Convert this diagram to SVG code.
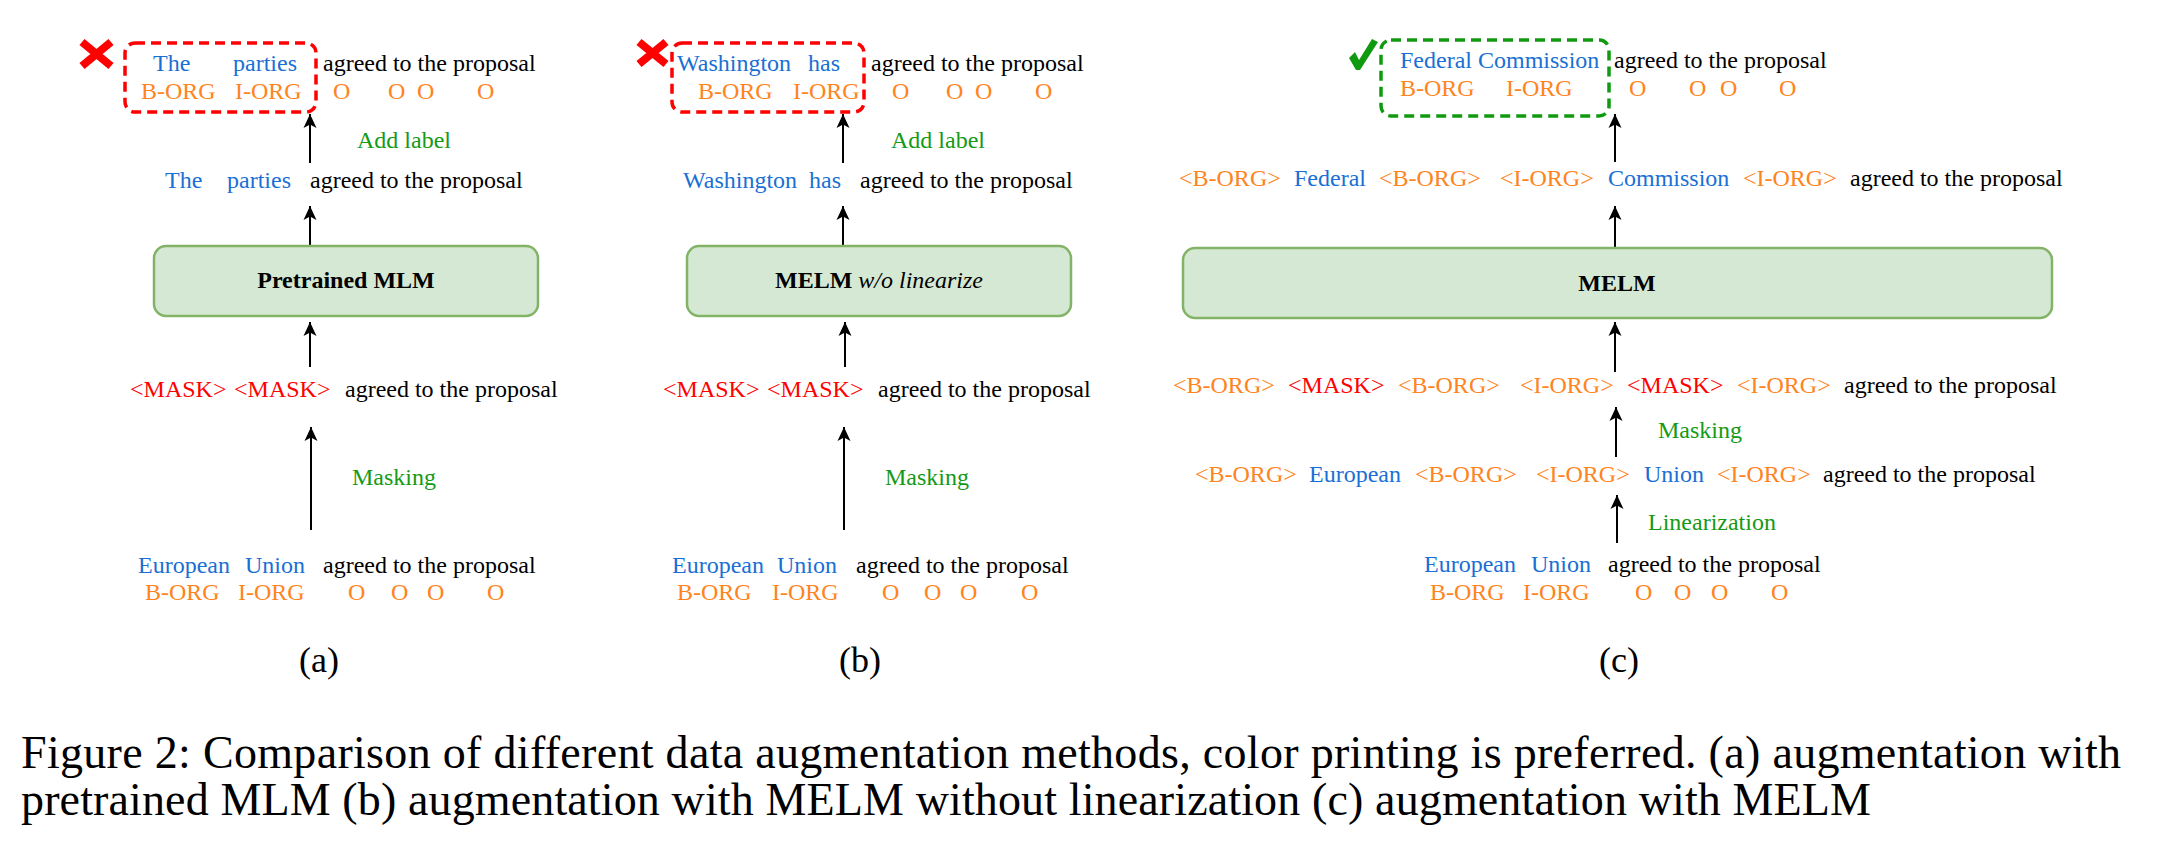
<svg xmlns="http://www.w3.org/2000/svg" width="2170" height="845" viewBox="0 0 2170 845">
<style>
text{font-family:"Liberation Serif","Times New Roman",serif;font-size:24px}
.b{fill:#1a6fd4}.o{fill:#ff8420}.r{fill:#ff0000}.k{fill:#000}.g{fill:#159a15}
.box{fill:#d5e8d4;stroke:#82b366;stroke-width:2.5}
.bold{font-weight:bold}
.lbl{text-anchor:middle;font-size:36px}
.cap{font-size:46px}
.conn line{stroke:#000;stroke-width:2;marker-end:url(#ah)}
.dashr{fill:none;stroke:#ff0000;stroke-width:3.5;stroke-dasharray:10 6}
.dashg{fill:none;stroke:#0f9a0f;stroke-width:3.5;stroke-dasharray:10 6}
</style>
<defs>
<marker id="ah" markerUnits="userSpaceOnUse" markerWidth="16" markerHeight="16" viewBox="0 0 16 16" refX="15" refY="8" orient="auto">
<path d="M1,1.5 L15,8 L1,14.5 L4.5,8 z" fill="#000"/>
</marker>
</defs>
<rect width="2170" height="845" fill="#fff"/>

<g id="connectors" class="conn">
<line x1="310" y1="163" x2="310" y2="114"/>
<line x1="310" y1="246" x2="310" y2="206"/>
<line x1="310" y1="367" x2="310" y2="322"/>
<line x1="311" y1="530" x2="311" y2="427"/>
<line x1="843" y1="163" x2="843" y2="114"/>
<line x1="843" y1="246" x2="843" y2="206"/>
<line x1="845" y1="367" x2="845" y2="322"/>
<line x1="844" y1="530" x2="844" y2="427"/>
<line x1="1615" y1="162" x2="1615" y2="114"/>
<line x1="1615" y1="248" x2="1615" y2="206"/>
<line x1="1615" y1="372" x2="1615" y2="322"/>
<line x1="1616" y1="457" x2="1616" y2="407"/>
<line x1="1617" y1="543" x2="1617" y2="495"/>
</g>

<!-- Panel (a) -->
<g id="a-output">
<path d="M82,42 L111,66 M111,42 L82,66" stroke="#ff0000" stroke-width="8" fill="none"/>
<rect class="dashr" x="125" y="43" width="191" height="69" rx="10"/>
<text x="153" y="71" class="b">The</text><text x="233" y="71" class="b">parties</text><text x="323" y="71" class="k">agreed to the proposal</text>
<text y="99" class="o"><tspan x="141">B-ORG</tspan><tspan x="235">I-ORG</tspan><tspan x="333">O</tspan><tspan x="388">O</tspan><tspan x="417">O</tspan><tspan x="477">O</tspan></text>
</g>
<g id="a-addlabel"><text x="357" y="148" class="g">Add label</text></g>
<g id="a-generated">
<text x="165" y="188" class="b">The</text><text x="227" y="188" class="b">parties</text><text x="310" y="188" class="k">agreed to the proposal</text>
</g>
<g id="a-model">
<rect class="box" x="154" y="246" width="384" height="70" rx="12"/>
<text x="346" y="288" text-anchor="middle" class="bold k">Pretrained MLM</text>
</g>
<g id="a-masked">
<text x="130" y="397" class="r">&lt;MASK&gt;</text><text x="234" y="397" class="r">&lt;MASK&gt;</text><text x="345" y="397" class="k">agreed to the proposal</text>
</g>
<g id="a-masking"><text x="352" y="485" class="g">Masking</text></g>
<g id="a-input">
<text x="138" y="573" class="b">European</text><text x="245" y="573" class="b">Union</text><text x="323" y="573" class="k">agreed to the proposal</text>
<text y="600" class="o"><tspan x="145">B-ORG</tspan><tspan x="238">I-ORG</tspan><tspan x="348">O</tspan><tspan x="391">O</tspan><tspan x="427">O</tspan><tspan x="487">O</tspan></text>
</g>
<g id="a-label"><text x="319" y="672" class="lbl k">(a)</text></g>

<!-- Panel (b) -->
<g id="b-output">
<path d="M639,42 L666,64 M666,42 L639,64" stroke="#ff0000" stroke-width="8" fill="none"/>
<rect class="dashr" x="672" y="43" width="192" height="69" rx="10"/>
<text x="677" y="71" class="b">Washington</text><text x="808" y="71" class="b">has</text><text x="871" y="71" class="k">agreed to the proposal</text>
<text y="99" class="o"><tspan x="698">B-ORG</tspan><tspan x="793">I-ORG</tspan><tspan x="892">O</tspan><tspan x="946">O</tspan><tspan x="975">O</tspan><tspan x="1035">O</tspan></text>
</g>
<g id="b-addlabel"><text x="891" y="148" class="g">Add label</text></g>
<g id="b-generated">
<text x="683" y="188" class="b">Washington</text><text x="809" y="188" class="b">has</text><text x="860" y="188" class="k">agreed to the proposal</text>
</g>
<g id="b-model">
<rect class="box" x="687" y="246" width="384" height="70" rx="12"/>
<text x="879" y="288" text-anchor="middle" class="k"><tspan font-weight="bold">MELM</tspan> <tspan font-style="italic">w/o linearize</tspan></text>
</g>
<g id="b-masked">
<text x="663" y="397" class="r">&lt;MASK&gt;</text><text x="767" y="397" class="r">&lt;MASK&gt;</text><text x="878" y="397" class="k">agreed to the proposal</text>
</g>
<g id="b-masking"><text x="885" y="485" class="g">Masking</text></g>
<g id="b-input">
<text x="672" y="573" class="b">European</text><text x="777" y="573" class="b">Union</text><text x="856" y="573" class="k">agreed to the proposal</text>
<text y="600" class="o"><tspan x="677">B-ORG</tspan><tspan x="772">I-ORG</tspan><tspan x="882">O</tspan><tspan x="924">O</tspan><tspan x="960">O</tspan><tspan x="1021">O</tspan></text>
</g>
<g id="b-label"><text x="860" y="672" class="lbl k">(b)</text></g>

<!-- Panel (c) -->
<g id="c-output">
<path d="M1349,58 L1355,52 L1359,60 L1372,39 L1378,42 L1360,70 L1356,70 z" fill="#0f9a0f"/>
<rect class="dashg" x="1381" y="40" width="228" height="76" rx="10"/>
<text x="1400" y="68" class="b">Federal Commission</text><text x="1614" y="68" class="k">agreed to the proposal</text>
<text y="96" class="o"><tspan x="1400">B-ORG</tspan><tspan x="1506">I-ORG</tspan><tspan x="1629">O</tspan><tspan x="1689">O</tspan><tspan x="1720">O</tspan><tspan x="1779">O</tspan></text>
</g>
<g id="c-generated">
<text x="1179" y="186" class="o">&lt;B-ORG&gt;</text><text x="1294" y="186" class="b">Federal</text><text x="1379" y="186" class="o">&lt;B-ORG&gt;</text><text x="1500" y="186" class="o">&lt;I-ORG&gt;</text><text x="1608" y="186" class="b">Commission</text><text x="1743" y="186" class="o">&lt;I-ORG&gt;</text><text x="1850" y="186" class="k">agreed to the proposal</text>
</g>
<g id="c-model">
<rect class="box" x="1183" y="248" width="869" height="70" rx="12"/>
<text x="1617" y="291" text-anchor="middle" class="bold k">MELM</text>
</g>
<g id="c-masked">
<text x="1173" y="393" class="o">&lt;B-ORG&gt;</text><text x="1288" y="393" class="r">&lt;MASK&gt;</text><text x="1398" y="393" class="o">&lt;B-ORG&gt;</text><text x="1520" y="393" class="o">&lt;I-ORG&gt;</text><text x="1627" y="393" class="r">&lt;MASK&gt;</text><text x="1737" y="393" class="o">&lt;I-ORG&gt;</text><text x="1844" y="393" class="k">agreed to the proposal</text>
</g>
<g id="c-masking"><text x="1658" y="438" class="g">Masking</text></g>
<g id="c-linearized">
<text x="1195" y="482" class="o">&lt;B-ORG&gt;</text><text x="1309" y="482" class="b">European</text><text x="1415" y="482" class="o">&lt;B-ORG&gt;</text><text x="1536" y="482" class="o">&lt;I-ORG&gt;</text><text x="1644" y="482" class="b">Union</text><text x="1717" y="482" class="o">&lt;I-ORG&gt;</text><text x="1823" y="482" class="k">agreed to the proposal</text>
</g>
<g id="c-linearization"><text x="1648" y="530" class="g">Linearization</text></g>
<g id="c-input">
<text x="1424" y="572" class="b">European</text><text x="1531" y="572" class="b">Union</text><text x="1608" y="572" class="k">agreed to the proposal</text>
<text y="600" class="o"><tspan x="1430">B-ORG</tspan><tspan x="1523">I-ORG</tspan><tspan x="1635">O</tspan><tspan x="1674">O</tspan><tspan x="1711">O</tspan><tspan x="1771">O</tspan></text>
</g>
<g id="c-label"><text x="1619" y="672" class="lbl k">(c)</text></g>

<g id="caption">
<text x="21" y="768" class="cap k" textLength="2100" lengthAdjust="spacing">Figure 2: Comparison of different data augmentation methods, color printing is preferred. (a) augmentation with</text>
<text x="21" y="815" class="cap k" textLength="1850" lengthAdjust="spacing">pretrained MLM (b) augmentation with MELM without linearization (c) augmentation with MELM</text>
</g>
</svg>
